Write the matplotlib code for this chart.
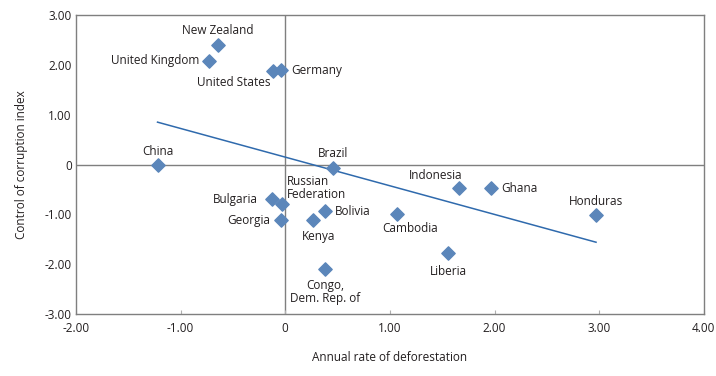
import matplotlib
matplotlib.use("Agg")
import matplotlib.pyplot as plt
from matplotlib.ticker import FixedLocator, FixedFormatter

plt.rcParams['font.family'] = ['Open Sans', 'DejaVu Sans']

countries = ["New Zealand", "United Kingdom", "United States", "Germany", "China",
             "Brazil", "Russian\nFederation", "Bulgaria", "Georgia", "Bolivia",
             "Kenya", "Congo,\nDem. Rep. of", "Cambodia", "Liberia", "Honduras",
             "Indonesia", "Ghana"]
deforestation = [-0.64, -0.73, -0.12, -0.04, -1.22, 0.46, -0.03, -0.13, -0.04, 0.38,
                 0.27, 0.38, 1.07, 1.56, 2.97, 1.66, 1.97]
corruption = [2.40, 2.08, 1.88, 1.89, 0.0, -0.08, -0.80, -0.70, -1.12, -0.94,
              -1.12, -2.10, -1.00, -1.78, -1.02, -0.48, -0.48]
trend_x = [-1.22, 2.97]
trend_y = [0.85, -1.56]
xticks = [-2, -1, 0, 1, 2, 3, 4]
xticklabels = ["-2.00", "-1.00", "0", "1.00", "2.00", "3.00", "4.00"]
yticks = [-3, -2, -1, 0, 1, 2, 3]
yticklabels = ["-3.00", "-2.00", "-1.00", "0", "1.00", "2.00", "3.00"]

# label placement: (dx, dy) in pixels, horizontal alignment
label_style = {
    "New Zealand": (0, 14, "center"),
    "United Kingdom": (-9, 0, "right"),
    "United States": (-2, -12, "right"),
    "Germany": (10, 0, "left"),
    "China": (0, 13, "center"),
    "Brazil": (0, 15, "center"),
    "Russian\nFederation": (5, 16, "left"),
    "Bulgaria": (-14, 0, "right"),
    "Georgia": (-11, 0, "right"),
    "Bolivia": (10, 0, "left"),
    "Kenya": (5, -16, "center"),
    "Congo,\nDem. Rep. of": (0, -23, "center"),
    "Cambodia": (13, -14, "center"),
    "Liberia": (0, -18, "center"),
    "Honduras": (0, 14, "center"),
    "Indonesia": (-23, 13, "center"),
    "Ghana": (10, 0, "left"),
}

fig = plt.figure(figsize=(7.16, 3.76), dpi=100)
ax = fig.add_axes([0.106, 0.165, 0.877, 0.795])
ax.set_xlim(-2, 4)
ax.set_ylim(-3, 3)

spine_c = "#7f7f7f"
for s in ax.spines.values():
    s.set_color(spine_c)
    s.set_linewidth(1.0)
ax.axhline(0, color=spine_c, lw=1.0, zorder=1)
ax.axvline(0, color=spine_c, lw=1.0, zorder=1)

ax.plot(trend_x, trend_y, color="#2f6aad", lw=1.1, zorder=2)
ax.scatter(deforestation, corruption, marker="D", s=46, color="#5b86ba",
           edgecolor="#5b86ba", zorder=3)

text_c = "#231f20"
fs = 8.5
for name, x, y in zip(countries, deforestation, corruption):
    dx, dy, ha = label_style[name]
    ax.annotate(name, (x, y), xytext=(dx, dy), textcoords="offset pixels",
                ha=ha, va="center", fontsize=fs, color=text_c, linespacing=1.0,
                zorder=4)

ax.xaxis.set_major_locator(FixedLocator(xticks))
ax.xaxis.set_major_formatter(FixedFormatter(xticklabels))
ax.yaxis.set_major_locator(FixedLocator(yticks))
ax.yaxis.set_major_formatter(FixedFormatter(yticklabels))
ax.tick_params(axis="x", direction="in", length=3, color="#b0b0b0", labelsize=fs,
               labelcolor=text_c, pad=6)
ax.tick_params(axis="y", length=0, labelsize=fs, labelcolor=text_c, pad=3)

ax.set_xlabel("Annual rate of deforestation", fontsize=fs, color=text_c, labelpad=11)
ax.set_ylabel("Control of corruption index", fontsize=fs, color=text_c, labelpad=12)

fig.savefig("out.png", dpi=100)
